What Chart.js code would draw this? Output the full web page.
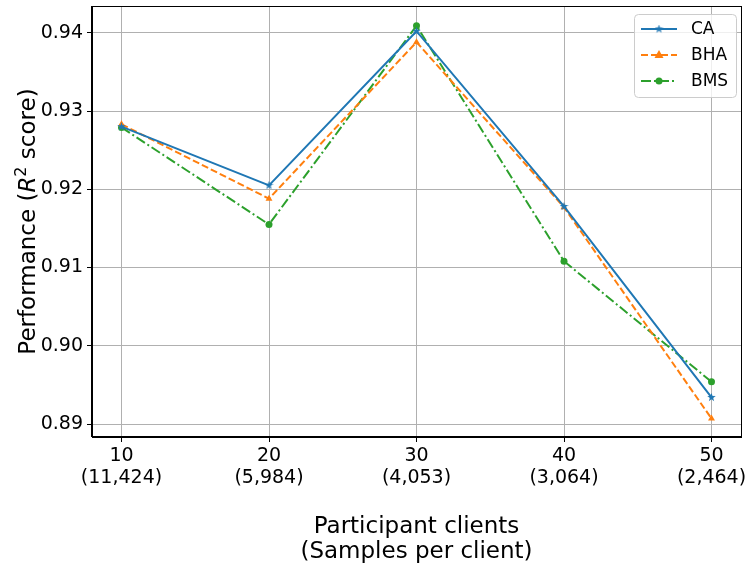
<!DOCTYPE html>
<html>
<head>
<meta charset="utf-8">
<script src="https://cdn.jsdelivr.net/npm/chart.js@4.4.1/dist/chart.umd.min.js"></script>
<style>
html, body { margin: 0; padding: 0; background: #fff; }
</style>
</head>
<body>
<canvas id="myChart" width="751" height="567"></canvas>
<script>
// Data
const xValues = [10, 20, 30, 40, 50];
const sampleLabels = ['(11,424)', '(5,984)', '(4,053)', '(3,064)', '(2,464)'];
const caScores = [0.9280, 0.9205, 0.9402, 0.9178, 0.8934];
const bhaScores = [0.9283, 0.9188, 0.9388, 0.9177, 0.8907];
const bmsScores = [0.9279, 0.9155, 0.9409, 0.9108, 0.8954];
const yTicks = [0.89, 0.90, 0.91, 0.92, 0.93, 0.94];
const seriesNames = ['CA', 'BHA', 'BMS'];

const FONT = 'DejaVu Sans';
const COLORS = {
    blue: '#1f77b4',
    orange: '#ff7f0e',
    green: '#2ca02c',
};

// filled star marker like matplotlib '*'
function makeStar(size, color) {
    const c = document.createElement('canvas');
    c.width = size;
    c.height = size;
    const ctx = c.getContext('2d');
    const cx = size / 2, cy = size / 2, R = size / 2, r = R * 0.4;
    ctx.beginPath();
    for (let i = 0; i < 10; i++) {
        const rad = i % 2 === 0 ? R : r;
        const a = -Math.PI / 2 + i * Math.PI / 5;
        const px = cx + rad * Math.cos(a);
        const py = cy + rad * Math.sin(a);
        if (i === 0) ctx.moveTo(px, py); else ctx.lineTo(px, py);
    }
    ctx.closePath();
    ctx.fillStyle = color;
    ctx.fill();
    return c;
}
const starImg = makeStar(9, COLORS.blue);

function toPoints(ys) {
    return xValues.map((x, i) => ({ x: x, y: ys[i] }));
}

const datasets = [{
        label: seriesNames[0],
        data: toPoints(caScores),
        borderColor: COLORS.blue,
        backgroundColor: COLORS.blue,
        borderWidth: 2,
        pointStyle: starImg,
        pointRadius: 4,
    },
    {
        label: seriesNames[1],
        data: toPoints(bhaScores),
        borderColor: COLORS.orange,
        backgroundColor: COLORS.orange,
        borderWidth: 2,
        borderDash: [7, 3],
        pointStyle: 'triangle',
        pointRadius: 4,
        pointBorderWidth: 0,
    },
    {
        label: seriesNames[2],
        data: toPoints(bmsScores),
        borderColor: COLORS.green,
        backgroundColor: COLORS.green,
        borderWidth: 2,
        borderDash: [10, 3, 2, 3],
        pointStyle: 'circle',
        pointRadius: 3.5,
        pointBorderWidth: 0,
    }
];

// Plugin: frame, y title with italic R, legend box
const extras = {
    id: 'extras',
    afterDraw(chart) {
        const ctx = chart.ctx;
        const a = chart.chartArea;
        ctx.save();

        // frame
        ctx.strokeStyle = '#000';
        ctx.lineWidth = 1;
        ctx.strokeRect(Math.round(a.left) - 0.5, Math.round(a.top) + 0.5, Math.round(a.right - a.left) + 1, Math.round(a.bottom - a.top) - 1);

        // y title
        ctx.translate(35, (a.top + a.bottom) / 2);
        ctx.rotate(-Math.PI / 2);
        ctx.fillStyle = '#000';
        ctx.textBaseline = 'alphabetic';
        const parts = [
            { t: 'Performance (', f: '23px "' + FONT + '"', dy: 0 },
            { t: 'R', f: 'oblique 23px "' + FONT + '"', dy: 0 },
            { t: '2', f: '16px "' + FONT + '"', dy: -9 },
            { t: ' score)', f: '23px "' + FONT + '"', dy: 0 },
        ];
        let total = 0;
        parts.forEach(p => { ctx.font = p.f; p.w = ctx.measureText(p.t).width; total += p.w; });
        let x = -total / 2;
        parts.forEach(p => {
            ctx.font = p.f;
            ctx.fillText(p.t, x, p.dy);
            x += p.w;
        });
        ctx.restore();

        // legend
        ctx.save();
        const bx = 634.5, by = 14.5, bw = 102, bh = 83;
        ctx.beginPath();
        ctx.roundRect(bx, by, bw, bh, 4);
        ctx.fillStyle = 'rgba(255,255,255,0.8)';
        ctx.fill();
        ctx.strokeStyle = '#cccccc';
        ctx.lineWidth = 1;
        ctx.stroke();
        ctx.font = '17px "' + FONT + '"';
        ctx.textBaseline = 'middle';
        chart.data.datasets.forEach((ds, i) => {
            const ly = 29 + i * 26;
            ctx.strokeStyle = ds.borderColor;
            ctx.lineWidth = 2;
            ctx.setLineDash(ds.borderDash || []);
            ctx.beginPath();
            ctx.moveTo(641, ly);
            ctx.lineTo(677, ly);
            ctx.stroke();
            ctx.setLineDash([]);
            const mx = 659;
            ctx.fillStyle = ds.backgroundColor;
            if (i === 0) {
                ctx.drawImage(starImg, mx - 4.5, ly - 4.5);
            } else if (i === 1) {
                ctx.beginPath();
                ctx.moveTo(mx, ly - 5);
                ctx.lineTo(mx + 4.5, ly + 3);
                ctx.lineTo(mx - 4.5, ly + 3);
                ctx.closePath();
                ctx.fill();
            } else {
                ctx.beginPath();
                ctx.arc(mx, ly, 3.5, 0, Math.PI * 2);
                ctx.fill();
            }
            ctx.fillStyle = '#000';
            ctx.fillText(ds.label, 691, ly + 1);
        });
        ctx.restore();
    }
};

// Config
const config = {
    type: 'line',
    data: { datasets: datasets },
    options: {
        responsive: false,
        animation: false,
        layout: { padding: { top: 6, right: 10, left: 0, bottom: 0 } },
        plugins: {
            legend: { display: false },
            tooltip: { enabled: false },
        },
        scales: {
            x: {
                type: 'linear',
                min: 8,
                max: 52,
                afterFit(scale) {
                    scale.height = 130;
                    scale.paddingLeft = 0;
                    scale.paddingRight = 0;
                },
                afterBuildTicks(scale) { scale.ticks = xValues.map(v => ({ value: v })); },
                ticks: {
                    autoSkip: false,
                    maxRotation: 0,
                    color: '#000',
                    padding: 3,
                    font: { family: FONT, size: 19, lineHeight: 1.15 },
                    callback(v, i) { return [String(v), sampleLabels[i]]; },
                },
                grid: { color: '#b0b0b0', tickColor: '#000', tickLength: 5, lineWidth: 1 },
                border: { color: '#000', width: 1 },
                title: {
                    display: true,
                    text: ['Participant clients', '(Samples per client)'],
                    color: '#000',
                    font: { family: FONT, size: 23, lineHeight: 1.1 },
                    padding: { top: 0, bottom: 2 },
                },
            },
            y: {
                type: 'linear',
                min: 0.88834,
                max: 0.94342,
                afterFit(scale) {
                    scale.width = 92;
                    scale.paddingTop = 0;
                    scale.paddingBottom = 0;
                },
                afterBuildTicks(scale) { scale.ticks = yTicks.map(v => ({ value: v })); },
                ticks: {
                    color: '#000',
                    padding: 4,
                    font: { family: FONT, size: 19 },
                    callback(v) { return v.toFixed(2); },
                },
                grid: { color: '#b0b0b0', tickColor: '#000', tickLength: 5, lineWidth: 1 },
                border: { color: '#000', width: 1 },
            },
        },
    },
    plugins: [extras],
};

const myChart = new Chart(document.getElementById('myChart'), config);
</script>
</body>
</html>
